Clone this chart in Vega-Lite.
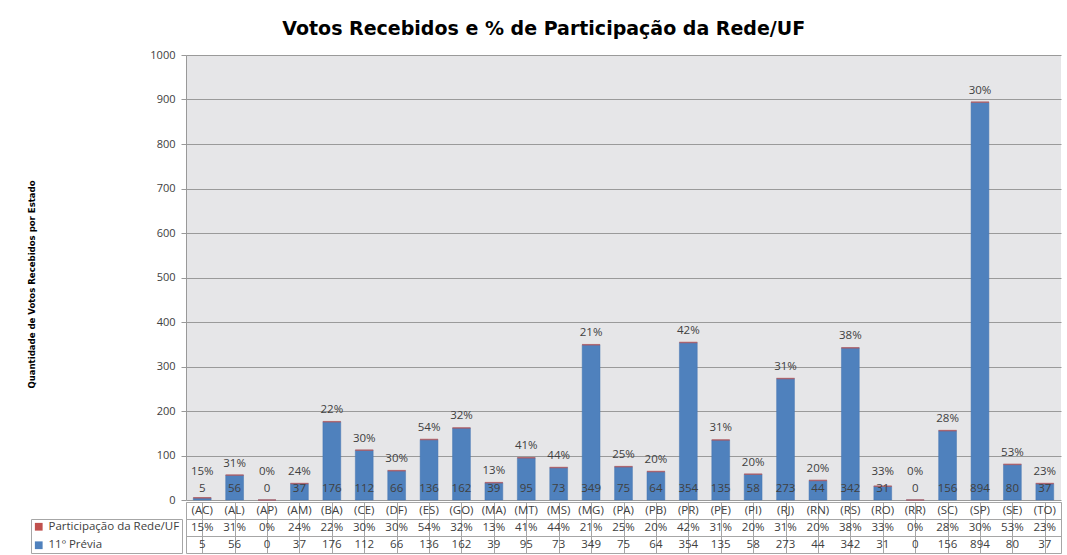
{
  "$schema": "https://vega.github.io/schema/vega-lite/v6.json",
  "background": "white",
  "padding": {"left": 25, "top": 20, "right": 5, "bottom": 0},
  "title": {"text": "Votos Recebidos e % de Participação da Rede/UF", "anchor": "middle", "font": "DejaVu Sans", "fontSize": 19, "fontWeight": "bold", "color": "#000000", "offset": 10},
  "data": {"values": [
    {"uf": "(AC)", "votos": 5, "part": 0.15},
    {"uf": "(AL)", "votos": 56, "part": 0.31},
    {"uf": "(AP)", "votos": 0, "part": 0.0},
    {"uf": "(AM)", "votos": 37, "part": 0.24},
    {"uf": "(BA)", "votos": 176, "part": 0.22},
    {"uf": "(CE)", "votos": 112, "part": 0.30},
    {"uf": "(DF)", "votos": 66, "part": 0.30},
    {"uf": "(ES)", "votos": 136, "part": 0.54},
    {"uf": "(GO)", "votos": 162, "part": 0.32},
    {"uf": "(MA)", "votos": 39, "part": 0.13},
    {"uf": "(MT)", "votos": 95, "part": 0.41},
    {"uf": "(MS)", "votos": 73, "part": 0.44},
    {"uf": "(MG)", "votos": 349, "part": 0.21},
    {"uf": "(PA)", "votos": 75, "part": 0.25},
    {"uf": "(PB)", "votos": 64, "part": 0.20},
    {"uf": "(PR)", "votos": 354, "part": 0.42},
    {"uf": "(PE)", "votos": 135, "part": 0.31},
    {"uf": "(PI)", "votos": 58, "part": 0.20},
    {"uf": "(RJ)", "votos": 273, "part": 0.31},
    {"uf": "(RN)", "votos": 44, "part": 0.20},
    {"uf": "(RS)", "votos": 342, "part": 0.38},
    {"uf": "(RO)", "votos": 31, "part": 0.33},
    {"uf": "(RR)", "votos": 0, "part": 0.0},
    {"uf": "(SC)", "votos": 156, "part": 0.28},
    {"uf": "(SP)", "votos": 894, "part": 0.30},
    {"uf": "(SE)", "votos": 80, "part": 0.53},
    {"uf": "(TO)", "votos": 37, "part": 0.23}
  ]},
  "spacing": 2,
  "bounds": "flush",
  "config": {
    "view": {"stroke": null},
    "text": {"font": "Open Sans", "fontSize": 11.5, "color": "#404040"}
  },
  "vconcat": [
    {
      "width": 875,
      "height": 445,
      "view": {"fill": "#e6e6e8", "stroke": null},
      "encoding": {
        "x": {"field": "uf", "type": "nominal", "sort": null, "scale": {"paddingInner": 0.45, "paddingOuter": 0.225}, "axis": null}
      },
      "layer": [
        {
          "mark": {"type": "bar", "stroke": "#4575b0", "strokeWidth": 0.5},
          "encoding": {
            "y": {"field": "votos", "type": "quantitative", "scale": {"domain": [0, 1000]},
              "axis": {"title": "Quantidade de Votos Recebidos por Estado", "values": [0,100,200,300,400,500,600,700,800,900,1000], "format": "d",
                "titleFont": "DejaVu Sans Condensed", "titleFontSize": 9.5, "titleFontWeight": "bold", "titleColor": "#000000",
                "titleX": -150, "titleY": 229,
                "labelFont": "Open Sans", "labelFontSize": 11, "labelColor": "#404040", "labelPadding": 6,
                "tickSize": 5, "tickColor": "#999999", "domainColor": "#999999",
                "grid": true, "gridColor": "#9a9a9a", "gridWidth": 1}},
            "color": {"datum": "11º Prévia", "scale": {"domain": ["Participação da Rede/UF", "11º Prévia"], "range": ["#c0504d", "#4f81bd"]},
              "legend": {"orient": "none", "legendX": -155, "legendY": 464, "title": null, "symbolType": "square", "symbolSize": 60,
                "symbolStrokeWidth": 0, "labelFont": "Open Sans", "labelFontSize": 11.5, "labelColor": "#404040", "rowPadding": 5.5,
                "strokeColor": "#a6a6a6", "padding": 2, "labelLimit": 200}}
          }
        },
        {
          "mark": {"type": "tick", "thickness": 1.5, "size": 18},
          "encoding": {
            "y": {"field": "votos", "type": "quantitative"},
            "color": {"datum": "Participação da Rede/UF"}
          }
        },
        {
          "mark": {"type": "text", "dy": -11, "baseline": "middle"},
          "encoding": {
            "y": {"datum": 0},
            "text": {"field": "votos", "type": "quantitative"}
          }
        },
        {
          "transform": [{"filter": "datum.votos >= 37"}],
          "mark": {"type": "text", "dy": -11.5, "baseline": "middle"},
          "encoding": {
            "y": {"field": "votos", "type": "quantitative"},
            "text": {"field": "part", "type": "quantitative", "format": ".0%"}
          }
        },
        {
          "transform": [{"filter": "datum.votos < 37"}],
          "mark": {"type": "text", "dy": -11.5, "baseline": "middle"},
          "encoding": {
            "y": {"datum": 37},
            "text": {"field": "part", "type": "quantitative", "format": ".0%"}
          }
        }
      ]
    },
    {
      "width": 875,
      "height": 51,
      "view": {"stroke": "#a6a6a6"},
      "encoding": {
        "x": {"field": "uf", "type": "nominal", "sort": null, "scale": {"paddingInner": 0, "paddingOuter": 0},
          "axis": {"grid": true, "bandPosition": 0, "labels": false, "ticks": false, "domain": false, "title": null, "gridColor": "#a6a6a6"}}
      },
      "layer": [
        {
          "mark": {"type": "text", "baseline": "middle", "fontSize": 11.5},
          "encoding": {
            "y": {"datum": "h", "type": "nominal", "scale": {"type": "band", "domain": ["h", "p", "v"], "paddingInner": 0, "paddingOuter": 0},
              "axis": {"grid": true, "bandPosition": 0, "labels": false, "ticks": false, "domain": false, "title": null, "gridColor": "#a6a6a6"}},
            "text": {"field": "uf", "type": "nominal"}
          }
        },
        {
          "mark": {"type": "text", "baseline": "middle", "fontSize": 11.5},
          "encoding": {
            "y": {"datum": "p", "type": "nominal"},
            "text": {"field": "part", "type": "quantitative", "format": ".0%"}
          }
        },
        {
          "mark": {"type": "text", "baseline": "middle", "fontSize": 11.5},
          "encoding": {
            "y": {"datum": "v", "type": "nominal"},
            "text": {"field": "votos", "type": "quantitative"}
          }
        }
      ]
    }
  ]
}
